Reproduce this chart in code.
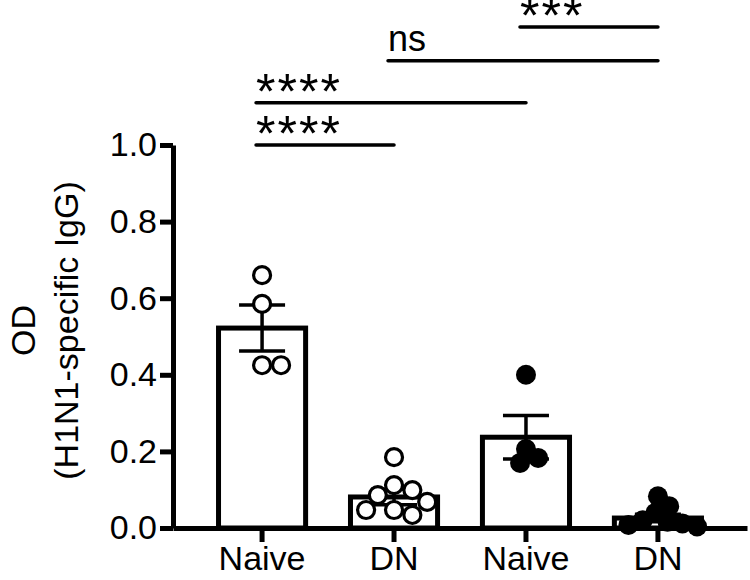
<!DOCTYPE html>
<html>
<head>
<meta charset="utf-8">
<script src="https://cdn.jsdelivr.net/npm/d3@7"></script>
<style>
  body { margin: 0; background: #fff; }
  #svg-container { width: 750px; height: 580px; }
  text { font-family: "Liberation Sans", Arial, sans-serif; fill: #000; }
</style>
</head>
<body>
<div id="svg-container"></div>
<script>
////////////////////////////////////////////////////////////////////
////////////////////////////  Data  ////////////////////////////////
const categories = ["Naive", "DN", "Naive", "DN"];
const filledGroup = [false, false, true, true];
const means = [0.522, 0.081, 0.237, 0.026];
const sems = [0.06, 0.02, 0.057, 0.01];
const points = [
  [0.66, 0.585, 0.425, 0.425],
  [0.185, 0.112, 0.099, 0.086, 0.068, 0.047, 0.034, 0.047],
  [0.4, 0.206, 0.17, 0.183],
  [0.083, 0.057, 0.04, 0.02, 0.012, 0.004, 0.008, 0.016]
];
const yTicks = [0, 0.2, 0.4, 0.6, 0.8, 1.0];

// significance comparisons
const compFrom = [0, 0, 1, 2];
const compTo = [1, 2, 3, 3];
const compLabels = ["****", "****", "ns", "***"];
const compHeights = [1.0, 1.11, 1.22, 1.308];

////////////////////////////////////////////////////////////////////
////////////////////////////  Init  ///////////////////////////////
const width = 750;
const height = 580;
const margin = { top: 145, right: 3, bottom: 52, left: 173 };

const svg = d3
  .select("#svg-container")
  .append("svg")
  .attr("width", width)
  .attr("height", height);

svg.append("rect").attr("width", width).attr("height", height).attr("fill", "#fff");

// scale
const xScale = d3
  .scaleBand()
  .domain(d3.range(categories.length))
  .range([margin.left, width - margin.right])
  .paddingInner(0.34)
  .paddingOuter(0.345);

const yScale = d3
  .scaleLinear()
  .domain([0, 1])
  .range([height - margin.bottom, margin.top]);

const cx = (i) => xScale(i) + xScale.bandwidth() / 2;

// bars
svg
  .selectAll(".bar")
  .data(means)
  .enter()
  .append("rect")
  .attr("class", "bar")
  .attr("x", (d, i) => xScale(i))
  .attr("y", (d) => yScale(d))
  .attr("width", xScale.bandwidth())
  .attr("height", (d) => yScale(0) - yScale(d))
  .attr("fill", "#fff")
  .attr("stroke", "#000")
  .attr("stroke-width", 5);

// axes
const yAxis = d3
  .axisLeft(yScale)
  .tickValues(yTicks)
  .tickFormat(d3.format(".1f"))
  .tickSize(13)
  .tickSizeOuter(0)
  .tickPadding(3);

const xAxis = d3
  .axisBottom(xScale)
  .tickFormat((i) => categories[i])
  .tickSize(14)
  .tickSizeOuter(0)
  .tickPadding(4);

const gx = svg
  .append("g")
  .attr("transform", `translate(0,${yScale(0)})`)
  .call(xAxis);

const gy = svg
  .append("g")
  .attr("transform", `translate(${margin.left},0)`)
  .call(yAxis);

[gx, gy].forEach((g) => {
  g.select(".domain").attr("stroke", "#000").attr("stroke-width", 5);
  g.selectAll(".tick line").attr("stroke", "#000").attr("stroke-width", 5);
  g.selectAll(".tick text").attr("fill", "#000").style("font-size", "34px");
});

// y title
const yTitle = svg
  .append("g")
  .attr("transform", `translate(0,${(yScale(0) + yScale(1)) / 2 - 6}) rotate(-90)`);
yTitle.append("text").attr("y", 35).attr("text-anchor", "middle").style("font-size", "34px").text("OD");
yTitle
  .append("text")
  .attr("y", 78)
  .attr("text-anchor", "middle")
  .style("font-size", "34px")
  .text("(H1N1-specific IgG)");

// error bars (mean +/- SEM)
const capHalf = 23;
means.forEach((m, i) => {
  const g = svg.append("g").attr("stroke", "#000").attr("stroke-width", 3.5);
  const x = cx(i);
  g.append("line").attr("x1", x).attr("x2", x).attr("y1", yScale(m - sems[i])).attr("y2", yScale(m + sems[i]));
  [m - sems[i], m + sems[i]].forEach((v) => {
    g.append("line").attr("x1", x - capHalf).attr("x2", x + capHalf).attr("y1", yScale(v)).attr("y2", yScale(v));
  });
});

// scatter points, simple beeswarm layout (closer packing for filled dots)
function swarm(vals, centerX, D) {
  const placed = [];
  const out = new Array(vals.length);
  const order = vals.map((v, i) => i).sort((a, b) => vals[b] - vals[a]);
  order.forEach((i) => {
    const y = yScale(vals[i]);
    const cands = [0];
    placed.forEach((p) => {
      const dy = Math.abs(p.y - y);
      if (dy < D) {
        const dx = Math.sqrt(D * D - dy * dy);
        cands.push(p.x + dx, p.x - dx);
      }
    });
    cands.sort((a, b) => Math.abs(a) - Math.abs(b));
    const x = cands.find((c) => placed.every((p) => Math.hypot(p.x - c, p.y - y) >= D - 0.01));
    placed.push({ x, y });
    out[i] = { x: centerX + x, y, v: vals[i] };
  });
  return out;
}

points.forEach((vals, i) => {
  const pos = swarm(vals, cx(i), filledGroup[i] ? 15 : 19);
  svg
    .selectAll(`.pt-${i}`)
    .data(pos)
    .enter()
    .append("circle")
    .attr("class", `pt-${i}`)
    .attr("cx", (d) => d.x)
    .attr("cy", (d) => d.y)
    .attr("r", filledGroup[i] ? 10 : 8.5)
    .attr("fill", filledGroup[i] ? "#000" : "#fff")
    .attr("stroke", "#000")
    .attr("stroke-width", filledGroup[i] ? 0 : 3.2);
});

// significance lines
compLabels.forEach((lab, k) => {
  const x1 = cx(compFrom[k]) - 6;
  const x2 = cx(compTo[k]);
  const y = yScale(compHeights[k]);
  svg
    .append("line")
    .attr("x1", x1)
    .attr("x2", x2)
    .attr("y1", y)
    .attr("y2", y)
    .attr("stroke", "#000")
    .attr("stroke-width", 3.5)
    .attr("stroke-linecap", "round");
  const isStar = lab.startsWith("*");
  svg
    .append("text")
    .attr("x", x1)
    .attr("y", isStar ? y + 6 : y - 10)
    .style("font-size", isStar ? "50px" : "36px")
    .style("letter-spacing", isStar ? "2px" : null)
    .text(lab);
});
</script>
</body>
</html>
